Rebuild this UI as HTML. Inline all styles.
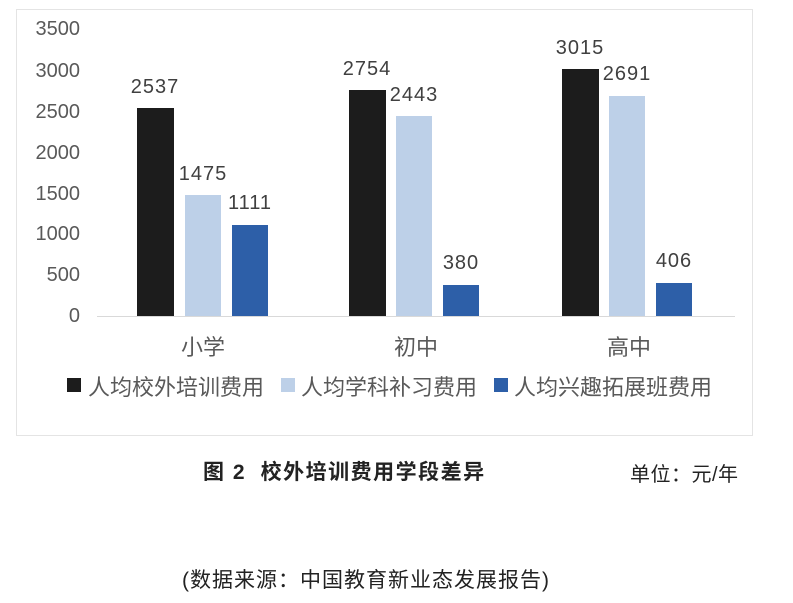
<!DOCTYPE html>
<html><head><meta charset="utf-8"><style>
body{margin:0;width:793px;height:603px;background:#fff;position:relative;overflow:hidden;font-family:"Liberation Sans","Noto Sans CJK SC",sans-serif;color:#555}
.a{position:absolute}
.yl{position:absolute;right:713px;font-size:20px;color:#595959;line-height:20px}
.bar{position:absolute}
.v{position:absolute;font-size:20px;color:#404040;width:70px;text-align:center;line-height:20px;letter-spacing:1px}
.c{position:absolute;font-size:22px;color:#595959;width:80px;text-align:center}
</style></head><body>
<div class="a" style="left:16px;top:9px;width:735px;height:425px;border:1px solid #e4e4e4"></div>
<div class="yl" style="top:19px">3500</div>
<div class="yl" style="top:61px">3000</div>
<div class="yl" style="top:102px">2500</div>
<div class="yl" style="top:143px">2000</div>
<div class="yl" style="top:184px">1500</div>
<div class="yl" style="top:224px">1000</div>
<div class="yl" style="top:265px">500</div>
<div class="yl" style="top:306px">0</div>
<div class="a" style="left:97px;top:316px;width:638px;height:1px;background:#d9d9d9"></div>

<div class="bar" style="left:137px;top:108px;width:37px;height:208px;background:#1c1c1c"></div>
<div class="bar" style="left:185px;top:195px;width:36px;height:121px;background:#bdd0e8"></div>
<div class="bar" style="left:232px;top:225px;width:36px;height:91px;background:#2d5fa8"></div>
<div class="v" style="left:120px;top:77px">2537</div>
<div class="v" style="left:168px;top:164px">1475</div>
<div class="v" style="left:215px;top:193px">1111</div>

<div class="bar" style="left:349px;top:90px;width:37px;height:226px;background:#1c1c1c"></div>
<div class="bar" style="left:396px;top:116px;width:36px;height:200px;background:#bdd0e8"></div>
<div class="bar" style="left:443px;top:285px;width:36px;height:31px;background:#2d5fa8"></div>
<div class="v" style="left:332px;top:59px">2754</div>
<div class="v" style="left:379px;top:85px">2443</div>
<div class="v" style="left:426px;top:253px">380</div>

<div class="bar" style="left:562px;top:69px;width:37px;height:247px;background:#1c1c1c"></div>
<div class="bar" style="left:609px;top:96px;width:36px;height:220px;background:#bdd0e8"></div>
<div class="bar" style="left:656px;top:283px;width:36px;height:33px;background:#2d5fa8"></div>
<div class="v" style="left:545px;top:38px">3015</div>
<div class="v" style="left:592px;top:64px">2691</div>
<div class="v" style="left:639px;top:251px">406</div>

<div class="c" style="left:163px;top:330px">小学</div>
<div class="c" style="left:376px;top:330px">初中</div>
<div class="c" style="left:589px;top:330px">高中</div>

<div class="a" style="left:67px;top:378px;width:14px;height:14px;background:#1c1c1c"></div>
<div class="a" style="left:88px;top:370px;font-size:22px;color:#595959">人均校外培训费用</div>
<div class="a" style="left:281px;top:378px;width:14px;height:14px;background:#bdd0e8"></div>
<div class="a" style="left:301px;top:370px;font-size:22px;color:#595959">人均学科补习费用</div>
<div class="a" style="left:494px;top:378px;width:14px;height:14px;background:#2d5fa8"></div>
<div class="a" style="left:514px;top:370px;font-size:22px;color:#595959">人均兴趣拓展班费用</div>

<div class="a" style="left:203px;top:456px;font-size:21px;font-weight:bold;color:#222;letter-spacing:1.5px">图 2&nbsp; 校外培训费用学段差异</div>
<div class="a" style="left:630px;top:458px;font-size:20px;color:#222;letter-spacing:0.5px">单位：元/年</div>
<div class="a" style="left:182px;top:564px;font-size:21px;color:#222;letter-spacing:1px">(数据来源：中国教育新业态发展报告)</div>
</body></html>
